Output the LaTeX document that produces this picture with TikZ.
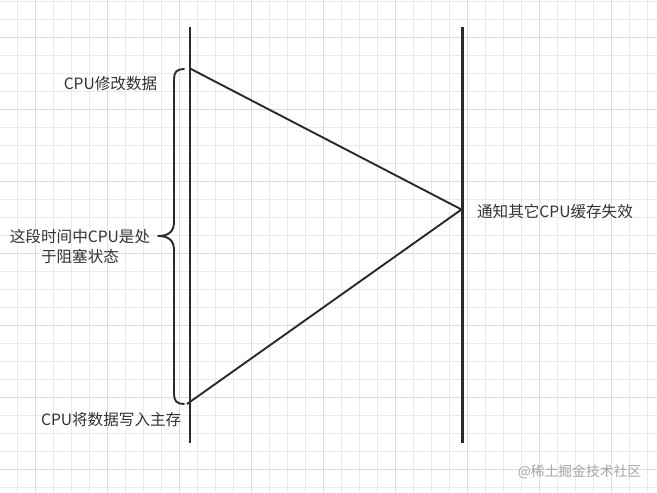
\documentclass[tikz,border=0pt]{standalone}
\usepackage{fontspec}
\setmainfont{Noto Sans CJK SC}
\definecolor{ink}{HTML}{2A2A2A}
\definecolor{txt}{HTML}{333333}
\definecolor{gridminor}{HTML}{EAEAEA}
\definecolor{gridmajor}{HTML}{DCDCDC}
\definecolor{wmgray}{HTML}{A6A6A6}
\tikzset{
  lbl/.style={inner sep=0pt, text=txt, font=\fontsize{15.6bp}{19.5bp}\selectfont},
  wmark/.style={inner sep=0pt, text=wmgray, font=\fontsize{13.8bp}{16bp}\selectfont},
  lifeline/.style={draw=ink, line width=2.1bp},
  msg/.style={draw=ink, line width=1.9bp, line join=round},
  bracefx/.style={draw=ink, line width=1.9bp, line join=round, line cap=round},
}
\begin{document}
\begin{tikzpicture}[x=1bp, y=-1bp]
\useasboundingbox (0,0) rectangle (657,493);
\fill[white] (0,0) rectangle (657,493);
% grid
\foreach \i in {0,...,35} {
  \draw[gridminor, line width=0.8bp] ({17.5+18*\i},0) -- ({17.5+18*\i},493);
}
\foreach \j in {0,...,27} {
  \draw[gridminor, line width=0.8bp] (0,{1.3+18*\j}) -- (657,{1.3+18*\j});
}
\foreach \i in {0,...,8} {
  \draw[gridmajor, line width=0.8bp] ({35.5+72*\i},0) -- ({35.5+72*\i},493);
}
\foreach \j in {0,...,6} {
  \draw[gridmajor, line width=0.8bp] (0,{37.3+72*\j}) -- (657,{37.3+72*\j});
}
% coordinates
\coordinate (Ltop) at (190,27);
\coordinate (Lbot) at (190,443);
\coordinate (Rtop) at (462.5,27);
\coordinate (Rbot) at (462.5,443);
\coordinate (A) at (190,68.5);
\coordinate (B) at (461.5,209.5);
\coordinate (C) at (187,404);
% lifelines
\draw[lifeline] (Ltop) -- (Lbot);
\draw[lifeline] (Rtop) -- (Rbot);
% messages
\draw[msg] (A) -- (B) -- (C);
% brace
\coordinate (Btop) at (184,69);
\coordinate (Btip) at (158,236);
\coordinate (Bbot) at (184,404);
\draw[bracefx] (Btop) .. controls (177,69) and (174,72) .. (174,79)
  -- (174,222) .. controls (174,232) and (168,236) .. (Btip)
  .. controls (168,236) and (174,240) .. (174,250)
  -- (174,394) .. controls (174,401) and (177,404) .. (Bbot);
% labels
\node[lbl] (t1) at (110.5,83.5) {CPU修改数据};
\node[lbl, align=center] (t2) at (80,246.3) {这段时间中CPU是处\\于阻塞状态};
\node[lbl] (t3) at (111.2,420) {CPU将数据写入主存};
\node[lbl] (t4) at (555,211.5) {通知其它CPU缓存失效};
\node[wmark] (wm) at (579.5,471.5) {@稀土掘金技术社区};
\end{tikzpicture}
\end{document}
